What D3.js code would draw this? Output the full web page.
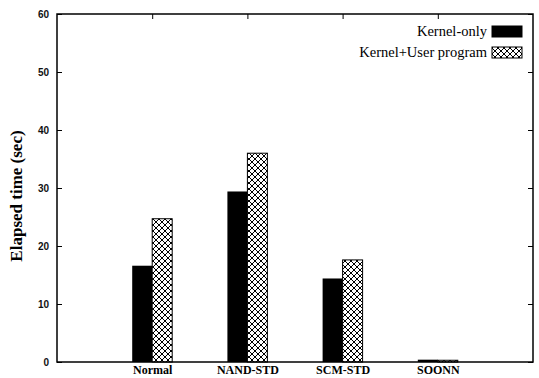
<!DOCTYPE html>
<html><head><meta charset="utf-8">
<script src="https://cdn.jsdelivr.net/npm/d3@7"></script>
<style>body{margin:0;background:#fff}svg{display:block}</style>
</head><body>
<svg id="c" width="539" height="378"></svg>
<script>
const categories = ["Normal", "NAND-STD", "SCM-STD", "SOONN"];
const seriesNames = ["Kernel-only", "Kernel+User program"];
const kernelOnly = [16.6, 29.4, 14.4, 0.4];
const kernelUser = [24.7, 36.0, 17.6, 0.3];
const yTicks = [0, 10, 20, 30, 40, 50, 60];

const svg = d3.select("#c");
const L = 57, R = 533, T = 14, B = 362;
const x = d3.scaleLinear().domain([0, categories.length + 1]).range([L, R]);
const y = d3.scaleLinear().domain([0, 60]).range([B, T]);
const bw = 0.21;

const defs = svg.append("defs");
const pat = defs.append("pattern").attr("id", "hatch").attr("patternUnits", "userSpaceOnUse")
  .attr("width", 6).attr("height", 6);
pat.append("rect").attr("width", 6).attr("height", 6).attr("fill", "#fff");
pat.append("path").attr("d", "M0,0L6,6M6,0L0,6").attr("stroke", "#000").attr("stroke-width", 1);

// bars
const g = svg.append("g");
g.selectAll("rect.k").data(kernelOnly).join("rect").attr("class", "k")
  .attr("x", (d, i) => x(i + 1 - bw)).attr("width", x(bw) - x(0))
  .attr("y", d => y(d)).attr("height", d => y(0) - y(d)).attr("fill", "#000");
g.selectAll("rect.u").data(kernelUser).join("rect").attr("class", "u")
  .attr("x", (d, i) => x(i + 1)).attr("width", x(bw) - x(0))
  .attr("y", d => y(d)).attr("height", d => y(0) - y(d))
  .attr("fill", "url(#hatch)").attr("stroke", "#000").attr("stroke-width", 1);

// frame
svg.append("rect").attr("x", L).attr("y", T).attr("width", R - L).attr("height", B - T)
  .attr("fill", "none").attr("stroke", "#000").attr("stroke-width", 1.5);

// left axis
const ya = d3.axisLeft(y).tickValues(yTicks).tickSize(-5).tickPadding(8).tickFormat(d3.format("d"));
const yg = svg.append("g").attr("transform", `translate(${L},0)`).call(ya);
yg.select(".domain").remove();
yg.selectAll("text").attr("font-family", "Liberation Sans, Arial, sans-serif").attr("font-size", 10).attr("font-weight", "bold").attr("fill", "#111");
// right ticks
const yr = d3.axisRight(y).tickValues(yTicks).tickSize(-5).tickFormat("");
const yrg = svg.append("g").attr("transform", `translate(${R},0)`).call(yr);
yrg.select(".domain").remove();
// top ticks
const xt = d3.axisTop(x).tickValues(d3.range(1, categories.length + 1)).tickSize(-5).tickFormat("");
const xtg = svg.append("g").attr("transform", `translate(0,${T})`).call(xt);
xtg.select(".domain").remove();
// bottom labels
const xb = d3.axisBottom(x).tickValues(d3.range(1, categories.length + 1)).tickSize(0).tickPadding(3)
  .tickFormat(i => categories[i - 1]);
const xbg = svg.append("g").attr("transform", `translate(0,${B})`).call(xb);
xbg.select(".domain").remove();
xbg.selectAll("text").attr("font-family", "Liberation Serif, Times New Roman, serif").attr("font-size", 12).attr("font-weight", "bold").attr("fill", "#000");

// y title
svg.append("text").attr("transform", `translate(22,${(T + B) / 2 + 8}) rotate(-90)`)
  .attr("text-anchor", "middle").attr("font-family", "Liberation Serif, Times New Roman, serif")
  .attr("font-size", 17).attr("font-weight", "bold").text("Elapsed time (sec)");

// legend
const leg = svg.append("g");
const legY = [31, 52];
leg.selectAll("text").data(seriesNames).join("text")
  .attr("x", 487).attr("y", (d, i) => legY[i]).attr("dy", "0.35em").attr("text-anchor", "end")
  .attr("font-family", "Liberation Serif, Times New Roman, serif").attr("font-size", 14.5).text(d => d);
leg.selectAll("rect").data(seriesNames).join("rect")
  .attr("x", 492).attr("y", (d, i) => legY[i] - 5).attr("width", 30).attr("height", 11)
  .attr("fill", (d, i) => i === 0 ? "#000" : "url(#hatch)").attr("stroke", "#000").attr("stroke-width", 1);
</script>
</body></html>
